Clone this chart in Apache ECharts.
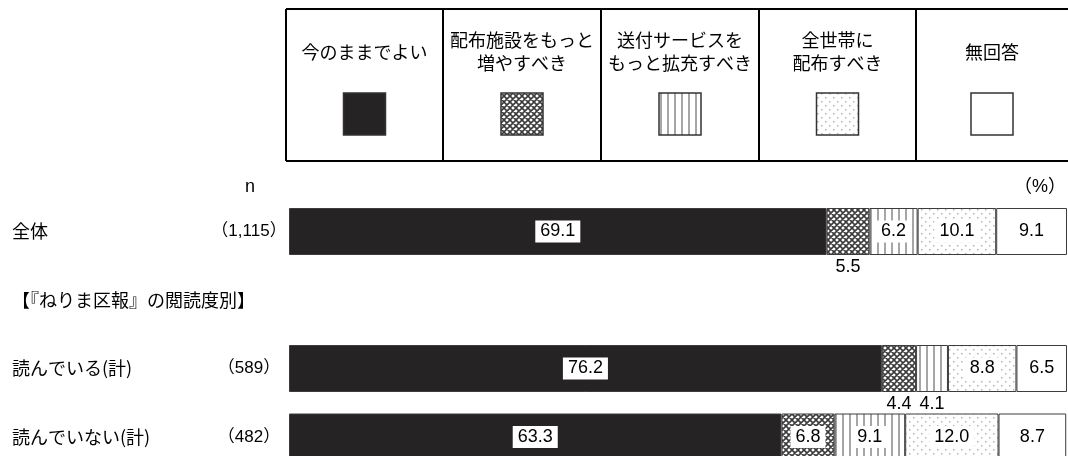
<!DOCTYPE html>
<html><head><meta charset="utf-8">
<script src="https://cdn.jsdelivr.net/npm/echarts@6/dist/echarts.min.js"></script>
<style>html,body{margin:0;padding:0;background:#fff}#c{width:1068px;height:456px}</style>
</head><body><div id="c"></div>
<script>
// ---- data ----
const categories = ['全体', '【『ねりま区報』の閲読度別】', '読んでいる(計)', '読んでいない(計)'];
const nLabels = ['（1,115）', '', '（589）', '（482）'];
const seriesNames = ['今のままでよい', '配布施設をもっと増やすべき', '送付サービスをもっと拡充すべき', '全世帯に配布すべき', '無回答'];
const legendLabels = ['今のままでよい', '配布施設をもっと\n増やすべき', '送付サービスを\nもっと拡充すべき', '全世帯に\n配布すべき', '無回答'];
const keepAsIs = [69.1, null, 76.2, 63.3];
const moreFacilities = [5.5, null, 4.4, 6.8];
const expandDelivery = [6.2, null, 4.1, 9.1];
const allHouseholds = [10.1, null, 8.8, 12.0];
const noAnswer = [9.1, null, 6.5, 8.7];
const seriesValues = [keepAsIs, moreFacilities, expandDelivery, allHouseholds, noAnswer];

// ---- patterns ----
function makeCanvas(w, h, draw) {
  const c = document.createElement('canvas'); c.width = w; c.height = h;
  const g = c.getContext('2d'); draw(g, w, h); return c;
}
const crossPat = makeCanvas(6, 6, g => {
  g.fillStyle = '#fff'; g.fillRect(0, 0, 6, 6);
  g.strokeStyle = '#3a3a3a'; g.lineWidth = 1.6; g.beginPath();
  for (let k = -6; k <= 12; k += 6) { g.moveTo(k, 0); g.lineTo(k + 6, 6); g.moveTo(k + 6, 0); g.lineTo(k, 6); }
  g.stroke();
});
const stripePat = makeCanvas(7, 7, g => {
  g.fillStyle = '#fff'; g.fillRect(0, 0, 7, 7);
  g.fillStyle = '#a6a6a6'; g.fillRect(2, 0, 2, 7);
});
const dotPat = makeCanvas(8, 8, g => {
  g.fillStyle = '#fff'; g.fillRect(0, 0, 8, 8);
  g.fillStyle = '#b4b4b4'; g.fillRect(1, 1, 1.5, 1.5); g.fillRect(5, 5, 1.5, 1.5);
});
const fills = [
  '#262324',
  { image: crossPat, repeat: 'repeat' },
  { image: stripePat, repeat: 'repeat' },
  { image: dotPat, repeat: 'repeat' },
  '#ffffff'
];

const JP = '"Noto Sans CJK JP", "Noto Sans", sans-serif';
const NUM = '"Liberation Sans", Arial, sans-serif';
const NUMJP = '"Liberation Sans", "Noto Sans CJK JP", sans-serif';

const insideLabel = { show: true, position: 'inside', backgroundColor: '#fff', padding: [2, 5], color: '#000', fontFamily: NUM, fontSize: 18 };
const belowLabel = { show: true, position: 'bottom', distance: 3, color: '#000', fontFamily: NUM, fontSize: 18, backgroundColor: 'transparent' };

// ---- legend table (graphic) ----
const colEdges = [286, 443, 601, 759, 916, 1068];
const boxTop = 9, boxBottom = 161;
const graphics = [];
graphics.push({ type: 'line', shape: { x1: colEdges[0], y1: boxTop, x2: 1068, y2: boxTop }, style: { stroke: '#000', lineWidth: 2 } });
graphics.push({ type: 'line', shape: { x1: colEdges[0], y1: boxBottom, x2: 1068, y2: boxBottom }, style: { stroke: '#000', lineWidth: 2 } });
for (let i = 0; i < 5; i++) {
  graphics.push({ type: 'line', shape: { x1: colEdges[i], y1: boxTop, x2: colEdges[i], y2: boxBottom }, style: { stroke: '#000', lineWidth: 2 } });
  const cx = (colEdges[i] + colEdges[i + 1]) / 2;
  graphics.push({ type: 'text', style: { text: legendLabels[i], x: cx, y: 52, textAlign: 'center', textVerticalAlign: 'middle', fill: '#000', font: '18px ' + JP, lineHeight: 23 } });
  graphics.push({ type: 'rect', shape: { x: cx - 21, y: 93, width: 42, height: 42 }, style: { fill: fills[i], stroke: '#333', lineWidth: 1.5 } });
}
graphics.push({ type: 'text', style: { text: 'n', x: 250, y: 187, textAlign: 'center', textVerticalAlign: 'middle', fill: '#000', font: '18px ' + NUM } });
graphics.push({ type: 'text', style: { text: '（%）', x: 1066, y: 187, textAlign: 'right', textVerticalAlign: 'middle', fill: '#000', font: '18px ' + NUMJP } });

const chart = echarts.init(document.getElementById('c'), null, { renderer: 'canvas' });
chart.setOption({
  animation: false,
  backgroundColor: '#fff',
  grid: { left: 289, top: 197.25, width: 778, height: 274, outerBoundsMode: 'none', containLabel: false },
  xAxis: { type: 'value', min: 0, max: 100, show: false },
  yAxis: {
    type: 'category', inverse: true, data: categories,
    axisLine: { show: false }, axisTick: { show: false }, splitLine: { show: false },
    axisLabel: {
      margin: 5,
      formatter: (v, idx) => nLabels[idx] ? `{a|${v}}{b|${nLabels[idx]}}` : `{h|${v}}`,
      rich: {
        a: { width: 202, align: 'left', fontSize: 18, fontFamily: JP, color: '#000' },
        b: { width: 70, align: 'center', fontSize: 17, fontFamily: NUMJP, color: '#000' },
        h: { width: 272, align: 'left', fontSize: 18, fontFamily: JP, color: '#000' }
      }
    }
  },
  graphic: graphics,
  series: seriesValues.map((vals, i) => ({
    name: seriesNames[i], type: 'bar', stack: 'total', barWidth: 47,
    itemStyle: { color: fills[i], borderColor: '#3c3c3c', borderWidth: 1 },
    emphasis: { disabled: true },
    label: { show: true, formatter: p => Number(p.value).toFixed(1) },
    data: vals.map(v => v == null ? null : { value: v, label: v < 6 ? belowLabel : insideLabel })
  }))
});
</script></body></html>
